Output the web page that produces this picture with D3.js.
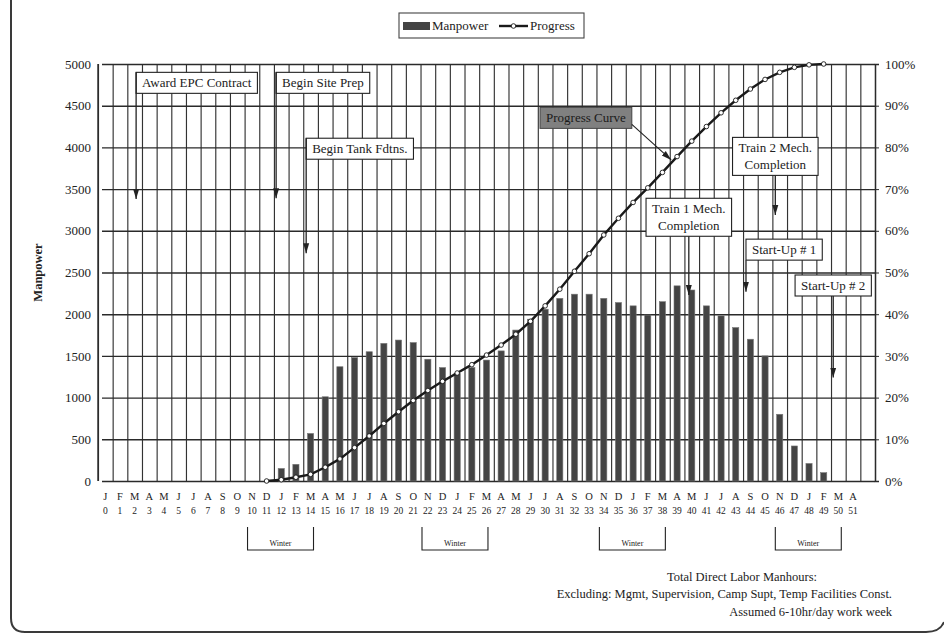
<!DOCTYPE html>
<html>
<head>
<meta charset="utf-8">
<script src="https://cdn.jsdelivr.net/npm/d3@7"></script>
<style>
  html, body { margin: 0; padding: 0; background: #fff; }
  svg { display: block; font-family: 'Liberation Serif', 'Times New Roman', serif; }
  svg text { font-family: 'Liberation Serif', 'Times New Roman', serif; }
</style>
</head>
<body>
<div id="chart"></div>
<script>
// Month letters for periods 0..51 (period 0 = January)
const monthLetters = [
  'J','F','M','A','M','J','J','A','S','O','N','D',
  'J','F','M','A','M','J','J','A','S','O','N','D',
  'J','F','M','A','M','J','J','A','S','O','N','D',
  'J','F','M','A','M','J','J','A','S','O','N','D',
  'J','F','M','A'
];

// Direct labor manpower per month (period 0..51)
const manpower = [
  0, 0, 0, 0, 0, 0, 0, 0, 0, 0, 0, 0,
  150, 200, 570, 1010, 1370, 1480, 1550, 1650, 1690, 1660, 1460, 1360,
  1290, 1360, 1450, 1560, 1810, 1940, 2060, 2190, 2240, 2240, 2190, 2140,
  2100, 1990, 2150, 2340, 2290, 2100, 1980, 1840, 1700, 1500, 800, 420,
  210, 100, 0, 0
];

// Cumulative progress in % (null = not started / finished)
const progress = [
  null, null, null, null, null, null, null, null, null, null, null, 0,
  0.3, 0.9, 1.6, 3.3, 5.3, 8, 10.8, 13.8, 16.6, 19.3, 21.7, 23.9,
  25.9, 27.9, 30.2, 32.6, 35.2, 38.3, 42, 46, 50.3, 54.5, 59, 63,
  66.8, 70.3, 74, 77.8, 81.5, 85, 88.3, 91.3, 94, 96.3, 98, 99.2,
  99.8, 100, null, null
];

const manpowerTicks = [0, 500, 1000, 1500, 2000, 2500, 3000, 3500, 4000, 4500, 5000];
const progressTicks = [0, 10, 20, 30, 40, 50, 60, 70, 80, 90, 100];

// Milestones: month (fractional period), box top and arrow tip in manpower units
const milestones = [
  { lines: ['Award EPC Contract'], month: 2.1, top: 4900, tip: 3380, anchor: 'left' },
  { lines: ['Begin Site Prep'], month: 11.65, top: 4900, tip: 3390, anchor: 'left' },
  { lines: ['Begin Tank Fdtns.'], month: 13.7, top: 4110, tip: 2730, anchor: 'left' },
  { lines: ['Train 1 Mech.', 'Completion'], month: 39.8, top: 3390, tip: 2230, anchor: 'center' },
  { lines: ['Train 2 Mech.', 'Completion'], month: 45.7, top: 4120, tip: 3190, anchor: 'center' },
  { lines: ['Start-Up # 1'], month: 43.7, top: 2900, tip: 2270, anchor: 'left' },
  { lines: ['Start-Up # 2'], month: 49.65, top: 2470, tip: 1240, anchor: 'center' }
];
const curveCallout = { text: 'Progress Curve', month: 29.65, top: 89.6, targetMonth: 38.6, targetPct: 77 };

const winterSpans = [[9.7, 14.2], [21.6, 26.1], [33.7, 38.2], [45.7, 50.2]];

const footnotes = [
  'Total Direct Labor Manhours:',
  'Excluding: Mgmt, Supervision, Camp Supt, Temp Facilities Const.',
  'Assumed 6-10hr/day work week'
];

// Layout
const W = 944, H = 635;
const plot = { left: 98, right: 875, top: 64, bottom: 481 };
const ink = '#222';
const serif = "'Liberation Serif', 'Times New Roman', serif";

const svg = d3.select('#chart').append('svg')
  .attr('width', W)
  .attr('height', H);

svg.append('defs').append('marker')
  .attr('id', 'arrow')
  .attr('viewBox', '0 0 10 10')
  .attr('refX', 10).attr('refY', 5)
  .attr('markerWidth', 10).attr('markerHeight', 10)
  .attr('markerUnits', 'userSpaceOnUse')
  .attr('orient', 'auto')
  .append('path')
  .attr('d', 'M0,2 L10,5 L0,8 Z')
  .attr('fill', ink);

// Page border of the scanned sheet
svg.append('path')
  .attr('d', `M11,0 L11,618 Q11,632 25,632 L926,632 Q940,632 944,622`)
  .attr('fill', 'none')
  .attr('stroke', '#3a3a3a')
  .attr('stroke-width', 2);

// Scales
const periods = monthLetters.map((_, i) => i);
const slots = periods.concat([periods.length]); // one empty slot on the right

const x = d3.scaleBand()
  .domain(slots)
  .range([plot.left, plot.right]);

const xm = d3.scaleLinear()
  .domain([-0.5, slots.length - 0.5])
  .range([plot.left, plot.right]);

const y = d3.scaleLinear()
  .domain([0, 5000])
  .range([plot.bottom, plot.top]);

const yP = d3.scaleLinear()
  .domain([0, 100])
  .range([plot.bottom, plot.top]);

// Grid - vertical lines on month boundaries
const boundaries = slots.concat([slots.length]).map(i => i - 0.5);
svg.append('g')
  .attr('class', 'grid-x')
  .attr('transform', `translate(0,${plot.bottom})`)
  .call(d3.axisBottom(xm)
    .tickValues(boundaries)
    .tickSize(-(plot.bottom - plot.top))
    .tickSizeOuter(0)
    .tickFormat(''))
  .call(g => g.select('.domain').remove())
  .selectAll('line')
  .attr('stroke', '#333')
  .attr('stroke-width', 1.15);

// Left axis with horizontal grid
const yAxis = svg.append('g')
  .attr('class', 'y-axis')
  .attr('transform', `translate(${plot.left},0)`)
  .call(d3.axisLeft(y)
    .tickValues(manpowerTicks)
    .tickSize(-(plot.right - plot.left))
    .tickPadding(7)
    .tickFormat(d3.format('d')))
  .attr('font-family', serif);
yAxis.select('.domain').remove();
yAxis.selectAll('line')
  .attr('stroke', '#2a2a2a')
  .attr('stroke-width', 1.4)
  .attr('x1', 4);
yAxis.selectAll('text')
  .attr('font-size', 13)
  .attr('fill', ink);

yAxis.append('text')
  .attr('transform', 'rotate(-90)')
  .attr('x', -(plot.top + plot.bottom) / 2)
  .attr('y', -56)
  .attr('fill', ink)
  .attr('font-size', 12.5)
  .attr('font-weight', 'bold')
  .attr('text-anchor', 'middle')
  .text('Manpower');

// Right axis (progress %)
const yAxisR = svg.append('g')
  .attr('class', 'y-axis-right')
  .attr('transform', `translate(${plot.right},0)`)
  .call(d3.axisRight(yP)
    .tickValues(progressTicks)
    .tickSize(4)
    .tickPadding(6)
    .tickFormat(d => d + '%'))
  .attr('font-family', serif);
yAxisR.select('.domain').attr('stroke', '#2a2a2a').attr('stroke-width', 1.4);
yAxisR.selectAll('line').attr('stroke', '#2a2a2a');
yAxisR.selectAll('text').attr('font-size', 13).attr('fill', ink);

// Plot frame
svg.append('line')
  .attr('x1', plot.left).attr('x2', plot.left)
  .attr('y1', plot.top).attr('y2', plot.bottom)
  .attr('stroke', '#2a2a2a').attr('stroke-width', 1.4);

// Month letters and period numbers
const monthAxis = svg.append('g').attr('class', 'x-axis');
monthAxis.selectAll('.month')
  .data(periods)
  .join('text')
  .attr('class', 'month')
  .attr('x', d => x(d) + x.bandwidth() / 2)
  .attr('y', plot.bottom + 19)
  .attr('text-anchor', 'middle')
  .attr('font-size', 10.5)
  .attr('fill', ink)
  .text(d => monthLetters[d]);

monthAxis.selectAll('.period')
  .data(periods)
  .join('text')
  .attr('class', 'period')
  .attr('x', d => x(d) + x.bandwidth() / 2)
  .attr('y', plot.bottom + 33)
  .attr('text-anchor', 'middle')
  .attr('font-size', 9.5)
  .attr('fill', ink)
  .text(d => d);

// Manpower bars
const barW = x.bandwidth() * 0.42;
svg.append('g')
  .attr('class', 'bars')
  .selectAll('rect')
  .data(periods.filter(i => manpower[i] > 0))
  .join('rect')
  .attr('x', i => x(i) + (x.bandwidth() - barW) / 2)
  .attr('y', i => y(manpower[i]))
  .attr('width', barW)
  .attr('height', i => y(0) - y(manpower[i]))
  .attr('fill', '#444')
  .attr('stroke', '#777')
  .attr('stroke-width', 0.6);

// Progress curve
const progressPts = periods.filter(i => progress[i] != null);
const line = d3.line()
  .x(i => x(i) + x.bandwidth() / 2)
  .y(i => yP(progress[i]));

svg.append('path')
  .datum(progressPts)
  .attr('fill', 'none')
  .attr('stroke', '#1a1a1a')
  .attr('stroke-width', 2.4)
  .attr('d', line);

svg.append('g')
  .attr('class', 'dots')
  .selectAll('circle')
  .data(progressPts)
  .join('circle')
  .attr('cx', i => x(i) + x.bandwidth() / 2)
  .attr('cy', i => yP(progress[i]))
  .attr('r', 2.3)
  .attr('fill', '#fff')
  .attr('stroke', '#1a1a1a')
  .attr('stroke-width', 0.9);

// Milestone callouts
const notes = svg.append('g').attr('class', 'milestones');
const lineH = 17, padX = 6, padY = 4;

milestones.forEach(m => {
  const g = notes.append('g');
  const texts = m.lines.map(t => g.append('text')
    .attr('font-size', 13)
    .attr('fill', ink)
    .attr('text-anchor', 'middle')
    .text(t));
  const tw = d3.max(texts, t => t.node().getComputedTextLength());
  const bw = tw + padX * 2;
  const bh = m.lines.length * lineH + padY * 2 - 4;
  const ax = xm(m.month);
  const bx = m.anchor === 'left' ? ax : ax - bw / 2;
  const by = y(m.top);

  g.insert('rect', 'text')
    .attr('x', bx).attr('y', by)
    .attr('width', bw).attr('height', bh)
    .attr('fill', '#fff')
    .attr('stroke', ink)
    .attr('stroke-width', 1.1);
  texts.forEach((t, k) => t
    .attr('x', bx + bw / 2)
    .attr('y', by + padY + 11 + k * lineH));

  g.append('line')
    .attr('x1', ax).attr('x2', ax)
    .attr('y1', m.anchor === 'left' && m.top > 3000 ? by : by + bh)
    .attr('y2', y(m.tip))
    .attr('stroke', ink)
    .attr('stroke-width', 1.3)
    .attr('marker-end', 'url(#arrow)');
});

// "Progress Curve" label with leader
{
  const g = notes.append('g');
  const t = g.append('text')
    .attr('font-size', 13)
    .attr('fill', '#1a1a1a')
    .text(curveCallout.text);
  const tw = t.node().getComputedTextLength();
  const bx = xm(curveCallout.month), by = yP(curveCallout.top);
  const bw = tw + padX * 2, bh = lineH + padY * 2 - 4;
  g.insert('rect', 'text')
    .attr('x', bx).attr('y', by)
    .attr('width', bw).attr('height', bh)
    .attr('fill', '#808080')
    .attr('stroke', '#444')
    .attr('stroke-width', 1);
  t.attr('x', bx + padX).attr('y', by + padY + 11);
  g.append('line')
    .attr('x1', bx + bw).attr('y1', by + bh - 4)
    .attr('x2', xm(curveCallout.targetMonth)).attr('y2', yP(curveCallout.targetPct))
    .attr('stroke', ink)
    .attr('stroke-width', 1.1)
    .attr('marker-end', 'url(#arrow)');
}

// Winter brackets
const winter = svg.append('g').attr('class', 'winter');
winterSpans.forEach(([a, b]) => {
  const x0 = xm(a), x1 = xm(b);
  winter.append('path')
    .attr('d', `M${x0},527 L${x0},550 L${x1},550 L${x1},527`)
    .attr('fill', 'none')
    .attr('stroke', ink)
    .attr('stroke-width', 1.1);
  winter.append('text')
    .attr('x', (x0 + x1) / 2)
    .attr('y', 546)
    .attr('text-anchor', 'middle')
    .attr('font-size', 8)
    .attr('fill', ink)
    .text('Winter');
});

// Legend
const legend = svg.append('g').attr('class', 'legend');
legend.append('rect')
  .attr('x', 399).attr('y', 13).attr('width', 185).attr('height', 25)
  .attr('fill', '#fff').attr('stroke', '#444').attr('stroke-width', 1.1);
legend.append('rect')
  .attr('x', 403).attr('y', 22).attr('width', 27).attr('height', 8)
  .attr('fill', '#444');
legend.append('text')
  .attr('x', 432).attr('y', 30)
  .attr('font-size', 13).attr('fill', ink)
  .text('Manpower');
legend.append('line')
  .attr('x1', 499).attr('x2', 528).attr('y1', 26).attr('y2', 26)
  .attr('stroke', '#1a1a1a').attr('stroke-width', 2.4);
legend.append('circle')
  .attr('cx', 513.5).attr('cy', 26).attr('r', 2.3)
  .attr('fill', '#fff').attr('stroke', '#1a1a1a').attr('stroke-width', 0.9);
legend.append('text')
  .attr('x', 530).attr('y', 30)
  .attr('font-size', 13).attr('fill', ink)
  .text('Progress');

// Footnotes
const foot = svg.append('g').attr('class', 'footnotes')
  .attr('font-size', 12.5).attr('fill', ink);
foot.append('text').attr('x', 742).attr('y', 581).attr('text-anchor', 'middle').text(footnotes[0]);
foot.append('text').attr('x', 892).attr('y', 598).attr('text-anchor', 'end').text(footnotes[1]);
foot.append('text').attr('x', 892).attr('y', 616).attr('text-anchor', 'end').text(footnotes[2]);
</script>
</body>
</html>
